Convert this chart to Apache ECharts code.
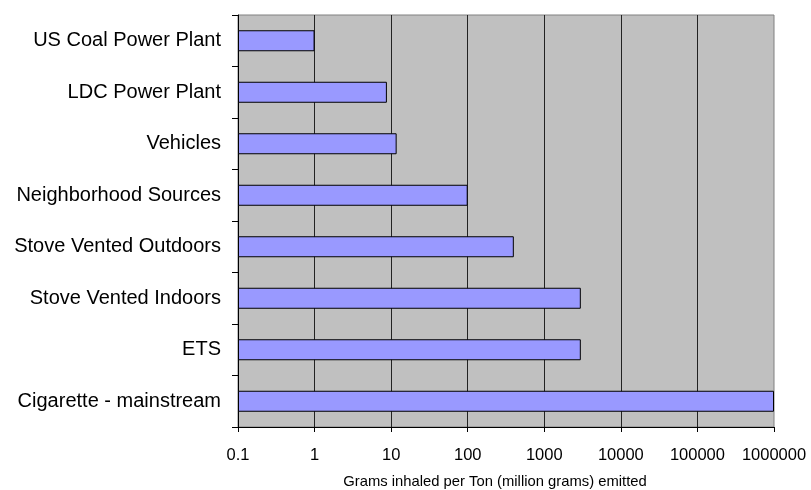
<!DOCTYPE html>
<html>
<head>
<meta charset="utf-8">
<script src="https://cdn.jsdelivr.net/npm/echarts@6/dist/echarts.min.js"></script>
<style>html,body{margin:0;padding:0;background:#fff}#c{width:811px;height:490px}</style>
</head>
<body>
<div id="c"></div>
<script>
const categories = ['US Coal Power Plant', 'LDC Power Plant', 'Vehicles', 'Neighborhood Sources', 'Stove Vented Outdoors', 'Stove Vented Indoors', 'ETS', 'Cigarette - mainstream'];
const values = [1, 8.8, 11.8, 100, 400, 3000, 3000, 1000000];
const axisTitle = 'Grams inhaled per Ton (million grams) emitted';
const xMin = 0.1, xMax = 1000000;

const chart = echarts.init(document.getElementById('c'), null, {renderer: 'canvas'});
const font = "Liberation Sans, Arial, sans-serif";
chart.setOption({
  animation: false,
  backgroundColor: '#fff',
  grid: {left: 238, right: 37, top: 15, bottom: 63, outerBoundsMode: 'none', containLabel: false,
    show: true, backgroundColor: '#C0C0C0', borderColor: '#808080', borderWidth: 1},
  xAxis: {
    type: 'log', logBase: 10, min: xMin, max: xMax, startValue: xMin,
    name: axisTitle, nameLocation: 'middle', nameGap: 47,
    nameTextStyle: {fontFamily: font, fontSize: 14.8, color: '#000', padding: [0, 22, 0, 0]},
    axisLine: {show: true, lineStyle: {color: '#000', width: 1}},
    axisTick: {show: true, inside: false, length: 5, lineStyle: {color: '#000'}},
    axisLabel: {fontFamily: font, fontSize: 16.5, color: '#000', margin: 20,
      formatter: v => String(+Number(v).toPrecision(6))},
    splitLine: {show: true, showMinLine: false, showMaxLine: false, lineStyle: {color: '#222', width: 1}},
    minorTick: {show: false}, minorSplitLine: {show: false}
  },
  yAxis: {
    type: 'category', data: categories, inverse: true,
    axisLine: {show: true, lineStyle: {color: '#000', width: 1}},
    axisTick: {show: true, inside: false, length: 6, alignWithLabel: false, lineStyle: {color: '#000'}},
    axisLabel: {fontFamily: font, fontSize: 20, color: '#000', margin: 17},
    splitLine: {show: false}
  },
  series: [{
    type: 'bar', data: values, barWidth: 21,
    itemStyle: {color: '#9999FF', borderColor: '#000', borderWidth: 1}
  }]
});
</script>
</body>
</html>
